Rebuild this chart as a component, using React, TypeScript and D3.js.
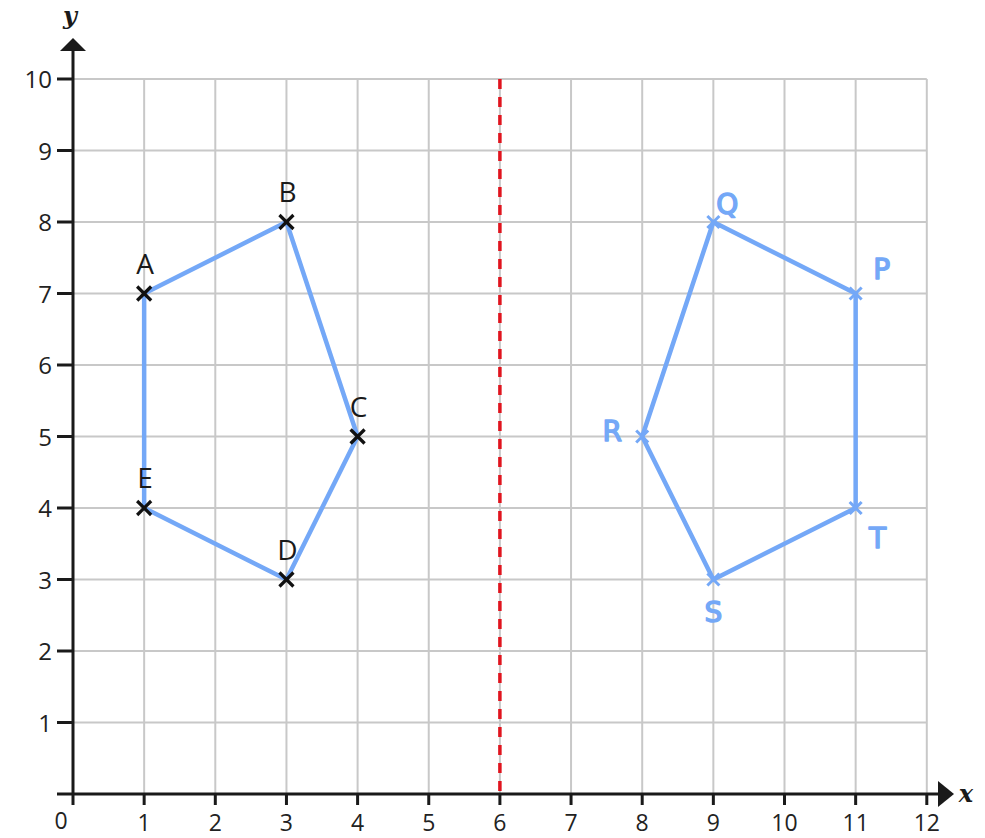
import React from "react";
import * as d3 from "d3";

const W = 985;
const H = 838;

const xTicks = [0, 1, 2, 3, 4, 5, 6, 7, 8, 9, 10, 11, 12];
const yTicks = [1, 2, 3, 4, 5, 6, 7, 8, 9, 10];

const shapeNames = ["A", "B", "C", "D", "E"];
const shapeX = [1, 3, 4, 3, 1];
const shapeY = [7, 8, 5, 3, 4];

const imageNames = ["P", "Q", "R", "S", "T"];
const imageX = [11, 9, 8, 9, 11];
const imageY = [7, 8, 5, 3, 4];

const mirrorX = 6;

// label offsets (px) for the handwritten image labels
const imageLabelDx = [26, 14, -30, 0, 22];
const imageLabelDy = [-15, -8, 4, 42, 40];

const App = () => {
  const x = d3.scaleLinear().domain([0, 12]).range([73, 926.8]);
  const y = d3.scaleLinear().domain([0, 10]).range([794, 79]);

  const line = d3
    .line<[number, number]>()
    .x((d) => x(d[0]))
    .y((d) => y(d[1]))
    .curve(d3.curveLinearClosed);

  const shapePts = shapeX.map((v, i) => [v, shapeY[i]] as [number, number]);
  const imagePts = imageX.map((v, i) => [v, imageY[i]] as [number, number]);

  const blue = "#74a8f7";
  const axisCol = "#1a1a1a";
  const font = "'Open Sans', 'Noto Sans', sans-serif";

  const cross = (cx: number, cy: number, s: number, col: string, w: number, key: string) => (
    <g key={key} stroke={col} strokeWidth={w} strokeLinecap="butt">
      <line x1={cx - s} y1={cy - s} x2={cx + s} y2={cy + s} />
      <line x1={cx - s} y1={cy + s} x2={cx + s} y2={cy - s} />
    </g>
  );

  return (
    <svg
      width={W}
      height={H}
      style={{ position: "absolute", left: 0, top: 0, background: "#fff" }}
    >
      {/* grid */}
      <g stroke="#c8c8c8" strokeWidth={2}>
        {xTicks.slice(1).map((t) => (
          <line key={"gx" + t} x1={x(t)} x2={x(t)} y1={y(10)} y2={y(0)} />
        ))}
        {yTicks.map((t) => (
          <line key={"gy" + t} x1={x(0)} x2={x(12)} y1={y(t)} y2={y(t)} />
        ))}
      </g>

      {/* mirror line */}
      <line
        x1={x(mirrorX)}
        x2={x(mirrorX)}
        y1={y(10)}
        y2={y(0)}
        stroke="#e0141e"
        strokeWidth={3.5}
        strokeDasharray="10 8"
      />

      {/* axes */}
      <g stroke={axisCol} strokeWidth={3}>
        <line x1={x(0)} x2={x(0)} y1={y(0)} y2={50} />
        <line x1={57} x2={938} y1={y(0)} y2={y(0)} />
        {yTicks.map((t) => (
          <line key={"ty" + t} x1={57} x2={x(0)} y1={y(t)} y2={y(t)} />
        ))}
        {xTicks.map((t) => (
          <line key={"tx" + t} x1={x(t)} x2={x(t)} y1={y(0)} y2={y(0) + 11} />
        ))}
      </g>
      <path d={`M${x(0)},38 L${x(0) - 13},51 L${x(0) + 13},51 Z`} fill={axisCol} />
      <path d={`M954,${y(0)} L938,${y(0) - 13} L938,${y(0) + 13} Z`} fill={axisCol} />

      {/* axis labels */}
      <text
        x={70}
        y={24}
        fontFamily="'DejaVu Serif', 'Liberation Serif', serif"
        fontStyle="italic"
        fontWeight="bold"
        fontSize={24}
        textAnchor="middle"
        fill={axisCol}
      >
        y
      </text>
      <text
        x={966}
        y={802}
        fontFamily="'DejaVu Serif', 'Liberation Serif', serif"
        fontStyle="italic"
        fontWeight="bold"
        fontSize={24}
        textAnchor="middle"
        fill={axisCol}
      >
        x
      </text>

      {/* tick labels */}
      <g fontFamily={font} fontSize={24} fill="#222">
        {yTicks.map((t) => (
          <text key={"ly" + t} x={52} y={y(t) + 9} textAnchor="end">
            {t}
          </text>
        ))}
      </g>
      <g fontFamily={font} fontSize={23} fill="#222">
        {xTicks.map((t) => (
          <text
            key={"lx" + t}
            x={t === 0 ? 61 : x(t)}
            y={t === 0 ? 829 : 831}
            textAnchor="middle"
          >
            {t}
          </text>
        ))}
      </g>

      {/* shapes */}
      <path
        d={line(shapePts) || ""}
        fill="none"
        stroke={blue}
        strokeWidth={4.5}
        strokeLinejoin="round"
      />
      <path
        d={line(imagePts) || ""}
        fill="none"
        stroke={blue}
        strokeWidth={4.5}
        strokeLinejoin="round"
      />

      {shapePts.map((p, i) => cross(x(p[0]), y(p[1]), 7, "#111", 3.2, "cs" + i))}
      {imagePts.map((p, i) => cross(x(p[0]), y(p[1]), 6, blue, 3, "ci" + i))}

      {/* labels */}
      <g fontFamily={font} fontSize={28} fill="#1a1a1a" textAnchor="middle">
        {shapeNames.map((n, i) => (
          <text key={"n" + n} x={x(shapeX[i]) + 1} y={y(shapeY[i]) - 20}>
            {n}
          </text>
        ))}
      </g>
      <g
        fontFamily="'DejaVu Sans', sans-serif"
        fontSize={28}
        fill={blue}
        stroke={blue}
        strokeWidth={1.5}
        strokeLinejoin="round"
        textAnchor="middle"
      >
        {imageNames.map((n, i) => (
          <text
            key={"m" + n}
            x={x(imageX[i]) + imageLabelDx[i]}
            y={y(imageY[i]) + imageLabelDy[i]}
          >
            {n}
          </text>
        ))}
      </g>
    </svg>
  );
};

export default App;
